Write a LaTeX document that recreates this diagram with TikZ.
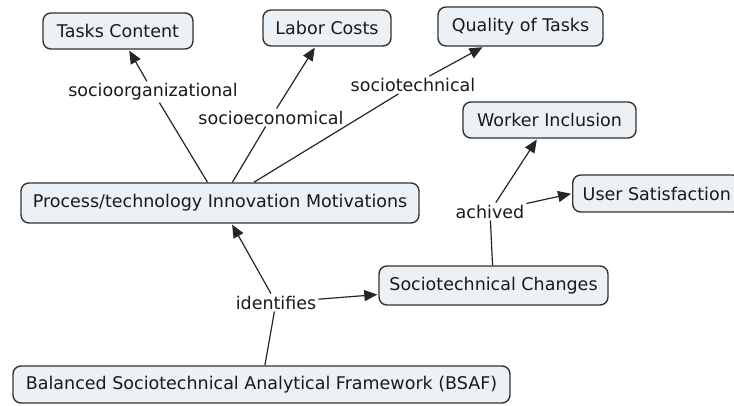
\documentclass[tikz,border=0pt]{standalone}
\usepackage{fontspec}
\setmainfont{DejaVu Sans}
\usetikzlibrary{arrows.meta}
\definecolor{boxfill}{HTML}{EBF1F4}
\definecolor{boxline}{HTML}{333333}
\definecolor{txt}{HTML}{1A1A1A}
\begin{document}
\begin{tikzpicture}[x=1pt,y=-1pt,
  concept/.style={draw=boxline, fill=boxfill, rounded corners=8pt, line width=1.4pt,
    font=\fontsize{17.5}{20}\selectfont, text=txt, inner sep=0pt, anchor=center},
  lbl/.style={font=\fontsize{17.5}{20}\selectfont, text=txt, inner sep=2pt},
  conn/.style={line width=1.2pt, draw=black!85},
  arr/.style={conn, -{Triangle[length=13pt,width=11pt]}, shorten >=1pt}]
\clip (0,0) rectangle (734,405);
\fill[white] (0,0) rectangle (734,405);
% concepts
\node[concept, minimum width=150pt, minimum height=36pt] (tc) at (118,31) {Tasks Content};
\node[concept, minimum width=128pt, minimum height=36pt] (lc) at (327,28) {Labor Costs};
\node[concept, minimum width=165pt, minimum height=39pt] (qt) at (520.5,26.5) {Quality of Tasks};
\node[concept, minimum width=173pt, minimum height=36pt] (wi) at (549.5,120) {Worker Inclusion};
\node[concept, anchor=west, inner xsep=10pt, minimum height=37pt] (us) at (572,193.5) {User Satisfaction};
\node[concept, minimum width=398pt, minimum height=40pt] (pm) at (220,203) {Process/technology Innovation Motivations};
\node[concept, minimum width=229pt, minimum height=39pt] (sc) at (493.5,285.5) {Sociotechnical Changes};
\node[concept, minimum width=497pt, minimum height=37pt] (bs) at (261.5,384.5) {Balanced Sociotechnical Analytical Framework (BSAF)};
% linking phrases
\node[lbl] (lso) at (153,92) {socioorganizational};
\node[lbl] (lse) at (271,117.5) {socioeconomical};
\node[lbl] (lst) at (413,85) {sociotechnical};
\node[lbl] (lac) at (490,211.5) {achived};
\node[lbl] (lid) at (276,302.5) {identifies};
% connectors
\draw[conn] (pm) -- (lso);
\draw[arr] (lso) -- (tc);
\draw[conn] (pm) -- (lse);
\draw[arr] (lse) -- (lc);
\draw[conn] (pm) -- (lst);
\draw[arr] (lst) -- (qt);
\draw[conn] (bs) -- (lid);
\draw[arr] (lid) -- (pm);
\draw[arr] (lid) -- (sc);
\draw[conn] (sc) -- (lac);
\draw[arr] (lac) -- (wi);
\draw[arr] (lac) -- (us.west);
\end{tikzpicture}
\end{document}
